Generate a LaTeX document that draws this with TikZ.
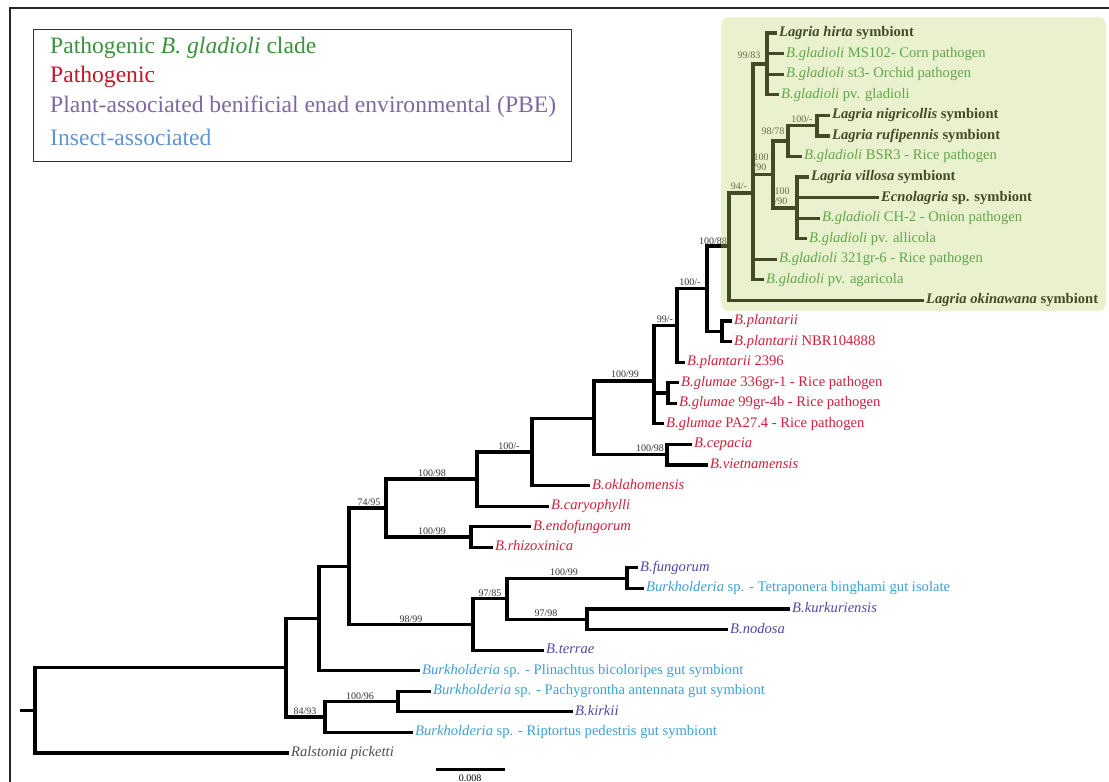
\documentclass[tikz,border=0pt]{standalone}
\usepackage{fontspec}
\setmainfont{Liberation Serif}
\definecolor{gladgreen}{RGB}{45,140,50}
\definecolor{pathred}{RGB}{208,32,58}
\definecolor{pbepurple}{RGB}{82,72,168}
\definecolor{insectblue}{RGB}{62,160,210}
\definecolor{leggreen}{RGB}{60,145,60}
\definecolor{legred}{RGB}{200,20,40}
\definecolor{legpurple}{RGB}{125,105,160}
\definecolor{legblue}{RGB}{95,150,210}
\definecolor{cladebg}{RGB}{196,214,117}
\tikzset{
  branch/.style={line width=3.2pt, draw=black, line join=miter, line cap=rect},
  leaf/.style={anchor=west, inner xsep=4pt, inner ysep=0pt, text height=10pt, text depth=3pt, font=\fontsize{14.6}{16}\selectfont},
  gladleaf/.style={leaf, text=gladgreen},
  lagrialeaf/.style={leaf, text=black, font=\fontsize{14.6}{16}\selectfont\bfseries},
  redleaf/.style={leaf, text=pathred},
  pbeleaf/.style={leaf, text=pbepurple},
  insectleaf/.style={leaf, text=insectblue},
  outleaf/.style={leaf, text=black!70},
  boot/.style={font=\fontsize{10}{10}\selectfont, text=black!80, inner sep=0pt},
  legendtext/.style={anchor=west, inner sep=0pt, font=\fontsize{23.6}{26}\selectfont},
  legendbox/.style={draw=black!80, line width=1pt},
  cladebox/.style={fill=cladebg, opacity=0.35, rounded corners=8pt},
  frame/.style={draw=black!85, line width=2pt},
  scalebar/.style={line width=3pt, draw=black},
}
\begin{document}
\begin{tikzpicture}[x=1pt,y=-1pt]
\useasboundingbox (0,0) rectangle (1109,782);
\draw[frame] (10,782) -- (10,8) -- (1109,8);
\draw[legendbox] (33,29) rectangle (571,161);
\node[legendtext, text=leggreen] (lg1) at (50,48) {Pathogenic \textit{B. gladioli} clade};
\node[legendtext, text=legred] (lg2) at (50,77) {Pathogenic};
\node[legendtext, text=legpurple] (lg3) at (50,107) {Plant-associated benificial enad environmental (PBE)};
\node[legendtext, text=legblue] (lg4) at (50,137) {Insect-associated};
\coordinate (stub) at (22,710.4);
\coordinate (root) at (35,710.4);
\coordinate (nA) at (286,667.7);
\coordinate (nB) at (319,618.5);
\coordinate (nC) at (349,566.2);
\coordinate (nD) at (386,508);
\coordinate (nE) at (477,479);
\coordinate (nF) at (532,452);
\coordinate (nF2) at (594,418.4);
\coordinate (nG) at (654,381);
\coordinate (nI) at (677,325.4);
\coordinate (nK) at (707,288.7);
\coordinate (nL) at (729,246);
\coordinate (nT) at (753,193);
\coordinate (nU) at (767,63.9);
\coordinate (nV) at (773,174.5);
\coordinate (nW) at (788,141);
\coordinate (nX) at (817,125.6);
\coordinate (nY) at (797,207.9);
\coordinate (nM) at (722,331.3);
\coordinate (nJ) at (668,393);
\coordinate (nH) at (667,454.7);
\coordinate (nZ) at (471,537);
\coordinate (nN) at (473,624.4);
\coordinate (nO) at (507,598.7);
\coordinate (nP) at (627,578.1);
\coordinate (nQ) at (587,619.3);
\coordinate (nR) at (325,717);
\coordinate (nS) at (398,701.5);
\node[lagrialeaf] (hirta) at (775,33.0) {\textit{Lagria hirta} symbiont};
\node[gladleaf] (ms102) at (782,53.6) {\textit{B.gladioli} MS102- Corn pathogen};
\node[gladleaf] (st3) at (782,74.1) {\textit{B.gladioli} st3- Orchid pathogen};
\node[gladleaf] (pvglad) at (777,94.7) {\textit{B.gladioli} pv. gladioli};
\node[lagrialeaf] (nigri) at (828,115.3) {\textit{Lagria nigricollis} symbiont};
\node[lagrialeaf] (rufi) at (828,135.9) {\textit{Lagria rufipennis} symbiont};
\node[gladleaf] (bsr3) at (800,156.4) {\textit{B.gladioli} BSR3 - Rice pathogen};
\node[lagrialeaf] (villosa) at (807,177.0) {\textit{Lagria villosa} symbiont};
\node[lagrialeaf] (ecno) at (877,197.6) {\textit{Ecnolagria} sp. symbiont};
\node[gladleaf] (ch2) at (818,218.1) {\textit{B.gladioli} CH-2 - Onion pathogen};
\node[gladleaf] (allic) at (805,238.7) {\textit{B.gladioli} pv. allicola};
\node[gladleaf] (gr321) at (775,259.3) {\textit{B.gladioli} 321gr-6 - Rice pathogen};
\node[gladleaf] (agari) at (762,279.8) {\textit{B.gladioli} pv. agaricola};
\node[lagrialeaf] (okina) at (922,300.4) {\textit{Lagria okinawana} symbiont};
\node[redleaf] (plan) at (730,321.0) {\textit{B.plantarii}};
\node[redleaf] (plannbr) at (730,341.6) {\textit{B.plantarii} NBR104888};
\node[redleaf] (plan2396) at (683,362.1) {\textit{B.plantarii} 2396};
\node[redleaf] (glu336) at (677,382.7) {\textit{B.glumae} 336gr-1 - Rice pathogen};
\node[redleaf] (glu99) at (675,403.3) {\textit{B.glumae} 99gr-4b - Rice pathogen};
\node[redleaf] (gluPA) at (662,423.8) {\textit{B.glumae} PA27.4 - Rice pathogen};
\node[redleaf] (cepa) at (690,444.4) {\textit{B.cepacia}};
\node[redleaf] (viet) at (706,465.0) {\textit{B.vietnamensis}};
\node[redleaf] (oklah) at (588,485.5) {\textit{B.oklahomensis}};
\node[redleaf] (caryo) at (547,506.1) {\textit{B.caryophylli}};
\node[redleaf] (endo) at (529,526.7) {\textit{B.endofungorum}};
\node[redleaf] (rhizo) at (491,547.3) {\textit{B.rhizoxinica}};
\node[pbeleaf] (fungo) at (636,567.8) {\textit{B.fungorum}};
\node[insectleaf] (tetra) at (642,588.4) {\textit{Burkholderia} sp. - Tetraponera binghami gut isolate};
\node[pbeleaf] (kurk) at (788,609.0) {\textit{B.kurkuriensis}};
\node[pbeleaf] (nodosa) at (726,629.5) {\textit{B.nodosa}};
\node[pbeleaf] (terrae) at (542,650.1) {\textit{B.terrae}};
\node[insectleaf] (plina) at (418,670.7) {\textit{Burkholderia} sp. - Plinachtus bicoloripes gut symbiont};
\node[insectleaf] (pachy) at (429,691.2) {\textit{Burkholderia} sp. - Pachygrontha antennata gut symbiont};
\node[pbeleaf] (kirkii) at (571,711.8) {\textit{B.kirkii}};
\node[insectleaf] (ript) at (411,732.4) {\textit{Burkholderia} sp. - Riptortus pedestris gut symbiont};
\node[outleaf] (ralst) at (287,753.0) {\textit{Ralstonia picketti}};
\draw[branch] (stub) -- (root);
\draw[branch] (root) |- (nA) (root) |- (ralst.west);
\draw[branch] (nA) |- (nB) (nA) |- (nR);
\draw[branch] (nB) |- (nC) (nB) |- (plina.west);
\draw[branch] (nC) |- (nD) (nC) |- (nN);
\draw[branch] (nD) |- (nE) (nD) |- (nZ);
\draw[branch] (nE) |- (nF) (nE) |- (caryo.west);
\draw[branch] (nF) |- (nF2) (nF) |- (oklah.west);
\draw[branch] (nF2) |- (nG) (nF2) |- (nH);
\draw[branch] (nG) |- (nI) (nG) |- (nJ) (nG) |- (gluPA.west);
\draw[branch] (nI) |- (nK) (nI) |- (plan2396.west);
\draw[branch] (nK) |- (nL) (nK) |- (nM);
\draw[branch] (nL) |- (nT) (nL) |- (okina.west);
\draw[branch] (nT) |- (nU) (nT) |- (nV) (nT) |- (gr321.west) (nT) |- (agari.west);
\draw[branch] (nU) |- (hirta.west) (nU) |- (ms102.west) (nU) |- (st3.west) (nU) |- (pvglad.west);
\draw[branch] (nV) |- (nW) (nV) |- (nY);
\draw[branch] (nW) |- (nX) (nW) |- (bsr3.west);
\draw[branch] (nX) |- (nigri.west) (nX) |- (rufi.west);
\draw[branch] (nY) |- (villosa.west) (nY) |- (ecno.west) (nY) |- (ch2.west) (nY) |- (allic.west);
\draw[branch] (nM) |- (plan.west) (nM) |- (plannbr.west);
\draw[branch] (nJ) |- (glu336.west) (nJ) |- (glu99.west);
\draw[branch] (nH) |- (cepa.west) (nH) |- (viet.west);
\draw[branch] (nZ) |- (endo.west) (nZ) |- (rhizo.west);
\draw[branch] (nN) |- (nO) (nN) |- (terrae.west);
\draw[branch] (nO) |- (nP) (nO) |- (nQ);
\draw[branch] (nP) |- (fungo.west) (nP) |- (tetra.west);
\draw[branch] (nQ) |- (kurk.west) (nQ) |- (nodosa.west);
\draw[branch] (nR) |- (nS) (nR) |- (ript.west);
\draw[branch] (nS) |- (pachy.west) (nS) |- (kirkii.west);
\node[boot] (bU) at (749,55) {99/83};
\node[boot] (bX) at (802,119) {100/-};
\node[boot] (bW) at (773,131) {98/78};
\node[boot, align=left] (bV) at (761,162) {100\\/90};
\node[boot, align=left] (bY) at (782,196) {100\\/90};
\node[boot] (bT) at (739,186) {94/-};
\node[boot] (bL) at (713,241) {100/88};
\node[boot] (bK) at (690,282) {100/-};
\node[boot] (bI) at (665,319) {99/-};
\node[boot] (bG) at (625,374) {100/99};
\node[boot] (bH) at (650,448) {100/98};
\node[boot] (bF) at (509,446) {100/-};
\node[boot] (bE) at (432,473) {100/98};
\node[boot] (bZ) at (432,531) {100/99};
\node[boot] (bD) at (369,502) {74/95};
\node[boot] (bN) at (411,619) {98/99};
\node[boot] (bO) at (490,593) {97/85};
\node[boot] (bP) at (564,572) {100/99};
\node[boot] (bQ) at (546,613) {97/98};
\node[boot] (bR) at (305,711) {84/93};
\node[boot] (bS) at (360,696) {100/96};
\coordinate (sbl) at (436,769);
\coordinate (sbr) at (505,769);
\draw[scalebar] (sbl) -- (sbr);
\node[boot, text=black] (sblab) at (470,778) {0.008};
\fill[cladebox] (721,17) rectangle (1106,311);
\end{tikzpicture}
\end{document}
